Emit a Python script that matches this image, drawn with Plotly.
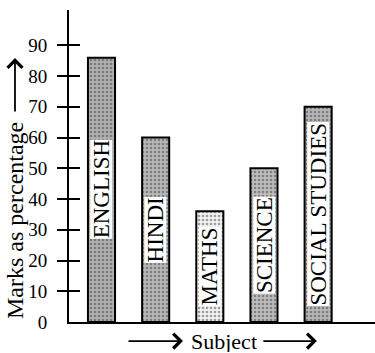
import plotly.graph_objects as go

# Marks obtained in each subject (percentage)
subjects = ["ENGLISH", "HINDI", "MATHS", "SCIENCE", "SOCIAL STUDIES"]
marks = [86, 60, 36, 50, 70]
y_ticks = [0, 10, 20, 30, 40, 50, 60, 70, 80, 90]

# grainy grey fill for each bar
fill_bg = ["#b0b0b0", "#b8b8b8", "#f2f2f2", "#bcbcbc", "#b6b6b6"]
fill_specks = ["#666666", "#707070", "#c8c8c8", "#747474", "#707070"]

SERIF = "Liberation Serif, Times New Roman, serif"

fig = go.Figure()
fig.add_trace(go.Bar(
    x=subjects, y=marks, width=0.5,
    marker=dict(
        color=fill_bg,
        line=dict(color="black", width=2),
        pattern=dict(shape=".", fgcolor=fill_specks, size=4, solidity=0.35),
    ),
    hoverinfo="skip", showlegend=False,
))
# empty traces so the extra tick axes get drawn
for ax in ("y2", "y3"):
    fig.add_trace(go.Scatter(x=[], y=[], yaxis=ax, showlegend=False, hoverinfo="skip"))

# subject names written up the middle of each bar on a white band
for s, v in zip(subjects, marks):
    fig.add_annotation(
        x=s, y=v / 2, text=s, textangle=-90, showarrow=False,
        xanchor="center", yanchor="middle",
        font=dict(family=SERIF, size=23, color="black"),
        bgcolor="white", borderpad=0, height=21, valign="middle",
    )

yr = [0, 101.5]
fig.update_layout(
    width=375, height=353,
    margin=dict(l=69, r=0, t=10, b=31),
    paper_bgcolor="white", plot_bgcolor="white",
    xaxis=dict(
        type="category", range=[-0.6, 5.05],
        showticklabels=False, ticks="", showgrid=False, zeroline=False,
        showline=True, linewidth=2, linecolor="black",
    ),
    yaxis=dict(
        range=yr, tickvals=y_ticks, ticktext=[str(t) for t in y_ticks],
        ticks="outside", ticklen=11, tickcolor="rgba(0,0,0,0)",
        ticklabelstandoff=5,
        tickfont=dict(family=SERIF, size=19, color="black"),
        showgrid=False, zeroline=False,
        showline=True, linewidth=2, linecolor="black",
    ),
    yaxis2=dict(
        range=yr, overlaying="y", anchor="x", side="left",
        tickvals=y_ticks[1:], ticks="outside", ticklen=11, tickwidth=2,
        tickcolor="black", showticklabels=False,
        showgrid=False, zeroline=False, showline=False,
    ),
    yaxis3=dict(
        range=yr, overlaying="y", anchor="x", side="left",
        tickvals=y_ticks[1:], ticks="inside", ticklen=11, tickwidth=2,
        tickcolor="black", showticklabels=False,
        showgrid=False, zeroline=False, showline=False,
    ),
)

# axis titles with their arrows
fig.add_annotation(
    xref="paper", yref="paper", x=-0.1765, y=0.327,
    xanchor="center", yanchor="middle",
    text="Marks as percentage", textangle=-90, showarrow=False,
    font=dict(family=SERIF, size=24, color="black"),
)
fig.add_annotation(
    xref="paper", yref="paper", x=-0.1765, y=0.846, text="",
    showarrow=True, ax=0, ay=55, arrowhead=4, arrowsize=1.6,
    arrowwidth=1.8, arrowcolor="black",
)
fig.add_annotation(
    xref="paper", yref="paper", x=0.505, y=-0.061,
    xanchor="center", yanchor="middle", height=22, valign="middle",
    text="Subject", showarrow=False,
    font=dict(family=SERIF, size=22, color="black"),
)
for tip, length in ((0.3725, 56), (0.810, 55)):
    fig.add_annotation(
        xref="paper", yref="paper", x=tip, y=-0.061, text="",
        showarrow=True, ax=-length, ay=0, arrowhead=4, arrowsize=1.6,
        arrowwidth=1.8, arrowcolor="black",
    )

fig.write_html("out.html")
